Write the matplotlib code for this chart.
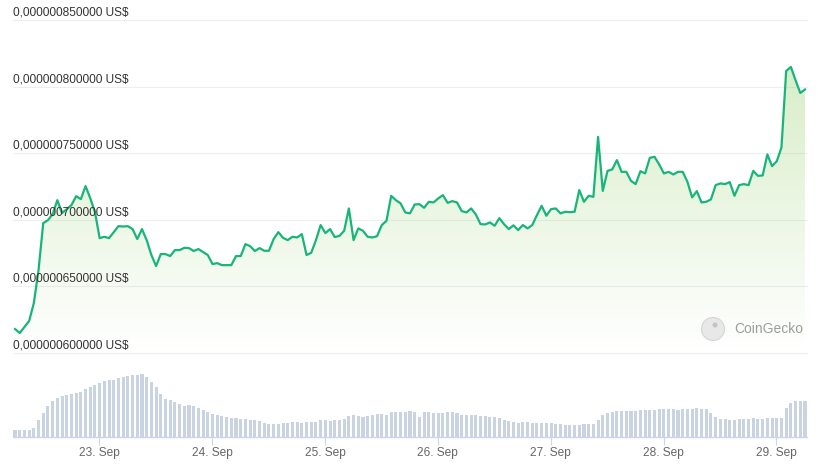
import numpy as np
import pandas as pd
import matplotlib
matplotlib.use("Agg")
import matplotlib.pyplot as plt
import matplotlib.dates as mdates
from matplotlib.patches import Ellipse
from matplotlib import transforms

plt.rcParams["font.family"] = ["Liberation Sans", "DejaVu Sans"]

# hourly price, in units of 1e-9 US$
price_e9 = [
    617.8, 614.8, 619.3, 623.8, 637.3, 662.1, 697.4, 699.6, 704.1, 714.6,
    704.9, 707.9, 710.9, 717.6, 715.4, 725.2, 716.1, 705.6, 686.1, 687.1,
    686.1, 690.6, 695.1, 694.8, 695.1, 692.9, 685.4, 692.9, 684.6, 673.4,
    665.1, 674.1, 674.1, 672.6, 677.1, 677.1, 678.8, 678.6, 676.4, 677.9,
    675.6, 673.4, 666.6, 667.3, 665.8, 665.8, 665.8, 672.6, 672.6, 681.6,
    680.1, 676.4, 678.6, 676.6, 676.6, 685.4, 690.6, 686.3, 684.6, 687.1,
    686.6, 689.1, 673.4, 675.1, 684.6, 695.9, 689.9, 692.9, 686.9, 687.8,
    691.6, 708.4, 684.6, 693.4, 691.6, 687.1, 686.6, 687.6, 695.9, 699.1,
    717.9, 714.6, 712.2, 705.4, 704.7, 711.4, 711.6, 708.9, 713.4, 712.9,
    715.9, 718.4, 712.6, 713.9, 712.9, 706.4, 705.4, 708.4, 703.9, 696.6,
    696.4, 697.9, 695.4, 701.1, 696.6, 692.9, 695.7, 692.1, 695.9, 693.4,
    695.9, 703.4, 710.4, 702.9, 707.9, 708.4, 704.7, 705.9, 705.6, 705.9,
    722.2, 713.4, 717.9, 717.1, 762.2, 721.6, 736.6, 737.7, 744.7, 735.9,
    735.9, 729.1, 726.7, 736.4, 734.7, 746.4, 747.2, 741.4, 734.7, 735.9,
    733.9, 735.9, 735.9, 728.4, 716.7, 721.4, 712.9, 713.4, 715.2, 725.9,
    727.2, 726.7, 728.2, 717.9, 725.9, 726.7, 725.9, 736.6, 732.9, 733.2,
    749.0, 740.2, 743.9, 754.2, 811.7, 814.7, 804.7, 795.2, 797.8,
]

# hourly volume (relative units)
volume = [
    22, 22, 22, 22, 28, 52, 73, 94, 109, 118,
    124, 127, 130, 133, 136, 145, 151, 157, 163, 169,
    172, 172, 178, 181, 184, 187, 187, 190, 181, 166,
    151, 130, 115, 112, 106, 100, 94, 97, 94, 88,
    82, 76, 70, 67, 64, 61, 58, 58, 55, 55,
    52, 52, 49, 43, 40, 40, 40, 43, 43, 46,
    46, 43, 46, 46, 46, 52, 52, 49, 52, 52,
    55, 64, 67, 64, 61, 64, 67, 70, 70, 67,
    76, 76, 76, 76, 79, 76, 61, 76, 76, 73,
    73, 73, 76, 76, 73, 67, 67, 67, 67, 64,
    64, 61, 61, 58, 52, 49, 46, 43, 46, 46,
    43, 43, 43, 43, 43, 40, 40, 37, 37, 37,
    37, 40, 40, 40, 52, 67, 73, 76, 79, 79,
    79, 79, 79, 82, 82, 82, 82, 85, 85, 85,
    85, 82, 85, 85, 85, 88, 85, 85, 73, 61,
    55, 55, 52, 52, 55, 55, 55, 58, 55, 55,
    58, 58, 58, 58, 88, 103, 109, 109, 109,
]

y_ticks = [0.60e-6, 0.65e-6, 0.70e-6, 0.75e-6, 0.80e-6, 0.85e-6]

price = np.array(price_e9) * 1e-9
times = pd.date_range("2023-09-22 06:05", periods=len(price), freq="h")
t = mdates.date2num(times.to_pydatetime())

W, H = 818, 465
fig = plt.figure(figsize=(W / 100, H / 100), dpi=100)
fig.patch.set_facecolor("white")


def px_axes(left, top, right, bottom):
    return fig.add_axes([left / W, 1 - bottom / H, (right - left) / W, (bottom - top) / H])


ax = px_axes(13, 20, 807, 352.7)
axv = px_axes(13, 360, 807, 437)

xlim = (t[0] - 0.43 / 24, t[-1] + 0.43 / 24)
ylim = (y_ticks[0], y_ticks[-1])

# price area with vertical gradient
poly = ax.fill_between(t, price, ylim[0], facecolor="none", lw=0)
grad = np.zeros((256, 1, 4))
grad[:, 0, 0] = 0.55
grad[:, 0, 1] = 0.80
grad[:, 0, 2] = 0.38
grad[:, 0, 3] = np.linspace(0.40, 0.0, 256)
img = ax.imshow(grad, extent=[xlim[0], xlim[1], ylim[0], ylim[1]],
                aspect="auto", origin="upper", zorder=1)
img.set_clip_path(poly.get_paths()[0], transform=ax.transData)
ax.plot(t, price, color="#18b57a", lw=1.6, zorder=3, solid_joinstyle="round")

for v in y_ticks:
    ax.axhline(v, color="#eceef4", lw=0.8, zorder=0.5, clip_on=False)
    lbl = f"{v:.12f}".replace(".", ",") + " US$"
    tr = transforms.offset_copy(ax.get_yaxis_transform(), fig=fig, x=0, y=1.5, units="dots")
    ax.text(0, v, lbl, transform=tr, ha="left", va="bottom",
            fontsize=8.6, color="#333333", zorder=5)

ax.set_xlim(xlim)
ax.set_ylim(ylim)
ax.set_axis_off()

# volume bars
axv.bar(t, volume, width=0.65 / 24, color="#c9d3e1", align="center")
axv.set_xlim(xlim)
axv.set_ylim(0, 231)
for s in ["top", "left", "right"]:
    axv.spines[s].set_visible(False)
axv.spines["bottom"].set_color("#ccd6eb")
axv.spines["bottom"].set_linewidth(1)
axv.set_yticks([])
axv.xaxis.set_major_locator(mdates.DayLocator())
axv.xaxis.set_major_formatter(mdates.DateFormatter("%d. %b"))
axv.tick_params(axis="x", length=6, width=0.8, color="#ccd6eb",
                labelsize=8.6, labelcolor="#666666", pad=1.5)
axv.patch.set_alpha(0)

# watermark
fig.patches.append(Ellipse((713 / W, 1 - 329 / H), 23 / W, 23 / H,
                           transform=fig.transFigure, facecolor="#e6e6e6",
                           edgecolor="#d2d2d2", lw=0.8, alpha=0.9))
fig.patches.append(Ellipse((715 / W, 1 - 325 / H), 5 / W, 5 / H,
                           transform=fig.transFigure, facecolor="#c4c4c4",
                           edgecolor="none"))
fig.text(734 / W, 1 - 329 / H, "CoinGecko", ha="left", va="center",
         fontsize=10, color="#9d9d9d")

fig.savefig("out.png", dpi=100, facecolor="white")
